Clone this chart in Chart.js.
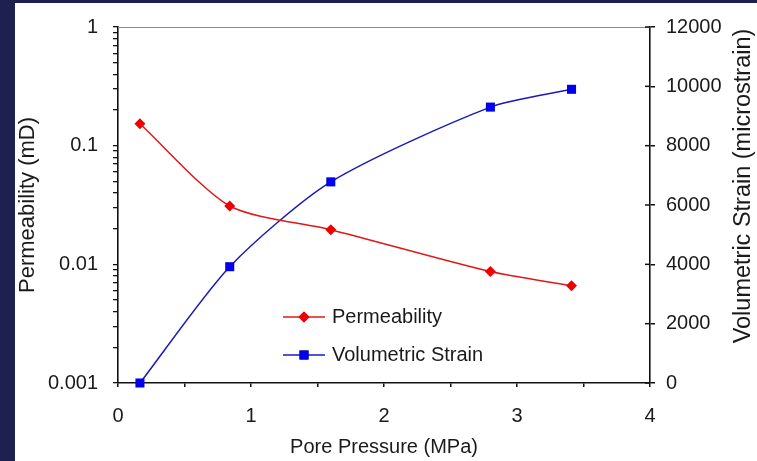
<!DOCTYPE html>
<html><head><meta charset="utf-8">
<script src="https://cdn.jsdelivr.net/npm/chart.js@4/dist/chart.umd.min.js"></script>
<style>
html,body{margin:0;padding:0;background:#1e2050;overflow:hidden;}
#wrap{position:absolute;left:0;top:0;width:757px;height:461px;}
</style></head><body>
<div id="wrap"><canvas id="c" width="757" height="461"></canvas></div>
<script>
// ---- data ----
const pressure = [0.165, 0.84, 1.60, 2.80, 3.41];           // MPa
const permeability = [0.153, 0.031, 0.0196, 0.0087, 0.0066]; // mD
const volumetricStrain = [0, 3920, 6780, 9300, 9900];        // microstrain
const xTickLabels = ['0', '1', '2', '3', '4'];
const permDecades = [0.001, 0.01, 0.1, 1];
const permTickLabels = ['0.001', '0.01', '0.1', '1'];
const strainTicks = [0, 2000, 4000, 6000, 8000, 10000, 12000];
const seriesNames = ['Permeability', 'Volumetric Strain'];
const rightTitle = 'Volumetric Strain (microstrain)';

const FONT = "'Liberation Sans', Arial, sans-serif";
Chart.defaults.font.family = FONT;
Chart.defaults.color = '#1a1a1a';

const AXIS = '#111111';

const decorPlugin = {
  id: 'decor',
  beforeDraw(chart) {
    const ctx = chart.ctx;
    ctx.save();
    ctx.fillStyle = '#ffffff';
    ctx.fillRect(15, 3, 742, 458);
    ctx.restore();
  },
  afterDraw(chart) {
    const ctx = chart.ctx;
    const a = chart.chartArea;
    ctx.save();
    // top frame line
    ctx.strokeStyle = '#8a8a8a';
    ctx.lineWidth = 1.2;
    ctx.beginPath();
    ctx.moveTo(a.left, a.top + 0.5);
    ctx.lineTo(a.right, a.top + 0.5);
    ctx.stroke();
    // inward half of right-axis ticks (they cross the axis)
    const s = chart.scales.y2;
    ctx.strokeStyle = AXIS;
    ctx.lineWidth = 1.5;
    s.ticks.forEach((t, i) => {
      const y = s.getPixelForTick(i);
      ctx.beginPath();
      ctx.moveTo(a.right - 5, y);
      ctx.lineTo(a.right, y);
      ctx.stroke();
    });
    // right axis title, reading bottom-to-top like the reference
    ctx.save();
    ctx.translate(744, 186);
    ctx.rotate(-Math.PI / 2);
    ctx.fillStyle = '#1a1a1a';
    ctx.font = '23.5px ' + FONT;
    ctx.textAlign = 'center';
    ctx.textBaseline = 'middle';
    ctx.fillText(rightTitle, 0, 0);
    ctx.restore();
    // legend inside plot
    const lx = 283, lys = [317, 355];
    chart.data.datasets.forEach((ds, i) => {
      const y = lys[i];
      ctx.strokeStyle = ds.borderColor;
      ctx.lineWidth = ds.borderWidth;
      ctx.beginPath();
      ctx.moveTo(lx, y);
      ctx.lineTo(lx + 42, y);
      ctx.stroke();
      Chart.helpers.drawPoint(ctx, {
        pointStyle: ds.pointStyle, radius: ds.pointRadius, rotation: 0,
        borderWidth: 0
      }, lx + 21, y);
      ctx.fillStyle = ds.pointBackgroundColor;
      ctx.fill();
      ctx.fillStyle = '#1a1a1a';
      ctx.font = '20px ' + FONT;
      ctx.textAlign = 'left';
      ctx.textBaseline = 'middle';
      ctx.fillText(ds.label, lx + 49, y);
    });
    ctx.restore();
  }
};

new Chart(document.getElementById('c'), {
  type: 'line',
  data: {
    datasets: [
      {
        label: seriesNames[0],
        data: pressure.map((x, i) => ({ x, y: permeability[i] })),
        yAxisID: 'y',
        borderColor: '#e01818',
        backgroundColor: '#ee0000',
        pointBackgroundColor: '#ee0000',
        pointBorderColor: '#ee0000',
        pointBorderWidth: 0,
        pointStyle: 'rectRot',
        pointRadius: 5.5,
        borderWidth: 1.5,
        tension: 0.25,
        clip: false
      },
      {
        label: seriesNames[1],
        data: pressure.map((x, i) => ({ x, y: volumetricStrain[i] })),
        yAxisID: 'y2',
        borderColor: '#1a1ab8',
        backgroundColor: '#0000ee',
        pointBackgroundColor: '#0000ee',
        pointBorderColor: '#0000ee',
        pointBorderWidth: 0,
        pointStyle: 'rect',
        pointRadius: 6.4,
        borderWidth: 1.5,
        tension: 0.25,
        clip: false
      }
    ]
  },
  options: {
    responsive: false,
    animation: false,
    devicePixelRatio: 1,
    layout: { padding: { top: 22, left: 0, right: 0, bottom: 0 } },
    plugins: { legend: { display: false }, tooltip: { enabled: false } },
    scales: {
      x: {
        type: 'linear', position: 'bottom', min: 0, max: 4,
        ticks: {
          stepSize: 0.5, autoSkip: false, maxRotation: 0, padding: 17,
          font: { size: 20 },
          callback: v => Number.isInteger(v) ? xTickLabels[v] : ''
        },
        grid: { drawOnChartArea: false, drawTicks: true, tickLength: 4, color: AXIS, lineWidth: 1.5 },
        border: { display: true, color: AXIS, width: 1.6 },
        title: { display: true, text: 'Pore Pressure (MPa)', font: { size: 20, lineHeight: 1.2 }, padding: { top: 0, bottom: 2 }, color: '#1a1a1a' },
        afterFit: s => { s.height = 78; }
      },
      y: {
        type: 'logarithmic', position: 'left', min: 0.001, max: 1,
        afterBuildTicks: s => {
          const t = [];
          for (let d = 0; d < permDecades.length - 1; d++) {
            for (let m = 1; m <= 9; m++) t.push({ value: Number((permDecades[d] * m).toPrecision(3)) });
          }
          t.push({ value: permDecades[permDecades.length - 1] });
          s.ticks = t;
        },
        ticks: {
          autoSkip: false, padding: 15, font: { size: 20 },
          callback: v => { const i = permDecades.indexOf(v); return i >= 0 ? permTickLabels[i] : ''; }
        },
        grid: { drawOnChartArea: false, drawTicks: true, tickLength: 5, color: AXIS, lineWidth: 1.3 },
        border: { display: true, color: AXIS, width: 1.6 },
        title: { display: true, text: 'Permeability (mD)', font: { size: 22, lineHeight: 1.2 }, padding: { top: 15, bottom: 0 }, color: '#1a1a1a' },
        afterFit: s => { s.width = 118; }
      },
      y2: {
        type: 'linear', position: 'right', min: 0, max: 12000,
        afterBuildTicks: s => { s.ticks = strainTicks.map(v => ({ value: v })); },
        ticks: { autoSkip: false, padding: 11, font: { size: 20 }, callback: v => String(v) },
        grid: { drawOnChartArea: false, drawTicks: true, tickLength: 5, color: AXIS, lineWidth: 1.5 },
        border: { display: true, color: AXIS, width: 1.6 },
        title: { display: false },
        afterFit: s => { s.width = 107; }
      }
    }
  },
  plugins: [decorPlugin]
});
</script>
</body></html>
